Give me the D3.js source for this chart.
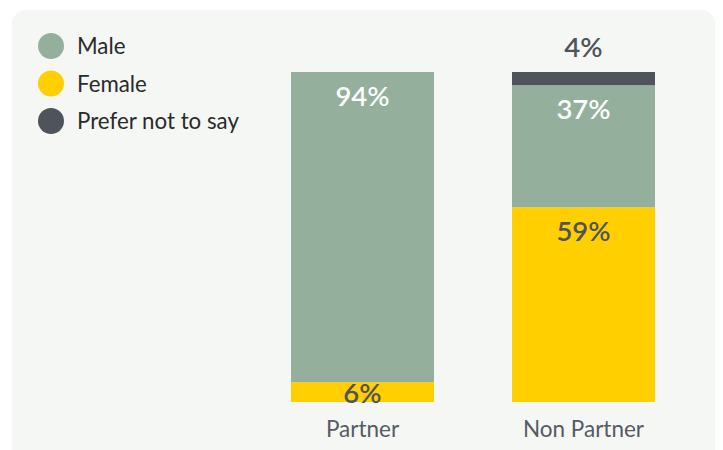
<!DOCTYPE html>
<html><head><meta charset="utf-8">
<script src="https://cdn.jsdelivr.net/npm/d3@7"></script>
<style>body{margin:0;background:#fff}svg{display:block}</style>
</head><body>
<svg id="c" width="723" height="450"></svg>
<script>
const categories = ["Partner", "Non Partner"];
const seriesNames = ["Female", "Male", "Prefer not to say"];
const female = [6, 59];
const male = [94, 37];
const preferNot = [0, 4];
const legendOrder = ["Male", "Female", "Prefer not to say"];
const colors = {"Male": "#94af9c", "Female": "#ffcf00", "Prefer not to say": "#4f535c"};
const labelColors = {"Male": "#ffffff", "Female": "#4f535c", "Prefer not to say": "#4f535c"};

const svg = d3.select("#c");
const font = "Lato, 'Noto Sans', sans-serif";
svg.append("rect").attr("x", 12).attr("y", 10).attr("width", 703).attr("height", 460)
  .attr("rx", 14).attr("fill", "#f5f7f4");

const rows = categories.map((c, i) => ({cat: c, "Female": female[i], "Male": male[i], "Prefer not to say": preferNot[i]}));
const stack = d3.stack().keys(seriesNames)(rows);

const x = d3.scaleBand().domain(categories).range([291, 655]).paddingInner(0.353).paddingOuter(0);
const y = d3.scaleLinear().domain([0, 100]).range([402, 72]);

const g = svg.append("g");
stack.forEach(s => {
  g.selectAll(null).data(s.filter(d => d[1] - d[0] > 0)).enter().append("rect")
    .attr("x", d => x(d.data.cat)).attr("width", x.bandwidth())
    .attr("y", d => y(d[1])).attr("height", d => y(d[0]) - y(d[1]))
    .attr("fill", colors[s.key]);
});
stack.forEach(s => {
  g.selectAll(null).data(s.filter(d => d[1] - d[0] > 0)).enter().append("text")
    .attr("x", d => x(d.data.cat) + x.bandwidth() / 2)
    .attr("y", d => {
      const h = y(d[0]) - y(d[1]);
      if (h < 18) return y(d[1]) - 15;
      return Math.min(y(d[1]) + 34, y(d[0]) + 1);
    })
    .attr("text-anchor", "middle")
    .attr("font-family", font).attr("font-size", 27.5).attr("font-weight", 600)
    .attr("fill", d => (y(d[0]) - y(d[1]) < 18) ? "#4f535c" : labelColors[s.key])
    .text(d => (d[1] - d[0]) + "%");
});

const xAxis = svg.append("g").attr("transform", "translate(0,402)")
  .call(d3.axisBottom(x).tickSize(0).tickPadding(35));
xAxis.select(".domain").remove();
xAxis.selectAll("text").attr("font-family", font).attr("font-size", 22.5)
  .attr("fill", "#555a63").attr("dy", 0);

const leg = svg.append("g").selectAll("g").data(legendOrder).enter().append("g")
  .attr("transform", (d, i) => `translate(51,${46 + i * 37.5})`);
leg.append("circle").attr("r", 13).attr("fill", d => colors[d]);
leg.append("text").attr("x", 26).attr("y", 8).attr("font-family", font).attr("font-size", 22.3)
  .attr("fill", "#2a2a2a").text(d => d);
</script>
</body></html>
